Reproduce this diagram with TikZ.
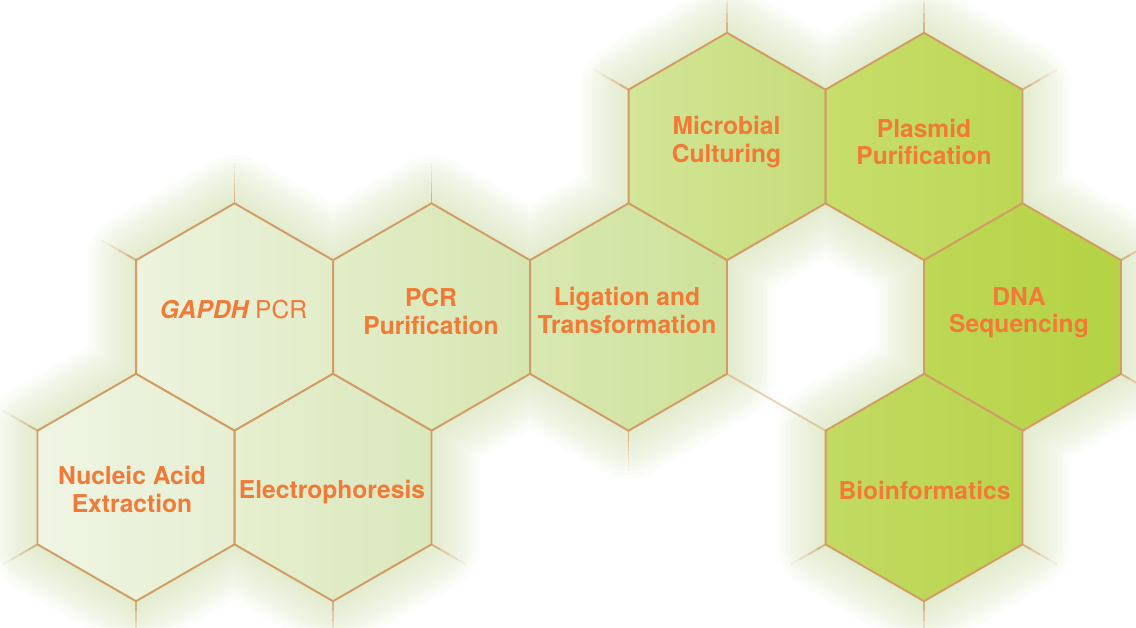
\documentclass[tikz,border=0pt]{standalone}
\usepackage{fontspec}
\setmainfont{TeX Gyre Heros}
\usepackage{xcolor}
\usepackage{tikz}
\definecolor{borde}{HTML}{D29C64}
\definecolor{naranja}{HTML}{F27A36}
\definecolor{verdehalo}{HTML}{CFE0A6}
\definecolor{extA}{HTML}{EFF5E3}\definecolor{extB}{HTML}{E6EFD3}
\definecolor{eleA}{HTML}{E6EFCF}\definecolor{eleB}{HTML}{DAE8BD}
\definecolor{gapA}{HTML}{EDF3DE}\definecolor{gapB}{HTML}{E1ECC8}
\definecolor{pcrA}{HTML}{E2EDC8}\definecolor{pcrB}{HTML}{D6E6B0}
\definecolor{ligA}{HTML}{D9E8B2}\definecolor{ligB}{HTML}{CDE299}
\definecolor{micA}{HTML}{D3E598}\definecolor{micB}{HTML}{C6DC78}
\definecolor{plaA}{HTML}{C7DE6C}\definecolor{plaB}{HTML}{BCD754}
\definecolor{dnaA}{HTML}{BED856}\definecolor{dnaB}{HTML}{B4D244}
\definecolor{bioA}{HTML}{C2DA62}\definecolor{bioB}{HTML}{B9D54E}
\newcommand{\hexR}{113.7}
\newcommand{\hexagono}[2]{(#1,#2) +(30:\hexR) -- +(90:\hexR) -- +(150:\hexR) -- +(210:\hexR) -- +(270:\hexR) -- +(330:\hexR) -- cycle}
\tikzset{
  celda/.style={draw=borde,line width=1.1pt,line join=round},
  brillo/.style={draw=verdehalo,line join=round},
  fantasma/.style={draw=borde,line width=1.1pt},
  rotulo/.style={text=naranja,font=\fontsize{14}{15.6}\selectfont\bfseries,align=center,inner sep=0pt}
}
\begin{document}
\begin{tikzpicture}[x=0.02cm,y=-0.02cm]
\clip (0,0) rectangle (1136,627);
\fill[white] (0,0) rectangle (1136,627);
% halo round the cluster
\foreach \w in {96,88,...,8}{
  \begin{scope}[transparency group,opacity=0.055]
  \foreach \cx/\cy in {727/146.5,924/146.5,234.5/317,431.5/317,628.5/317,1022.5/317,136/487.5,333/487.5,924/487.5}
    \draw[brillo,line width=\w*0.02cm] \hexagono{\cx}{\cy};
  \end{scope}
}
% faint edges of the empty cells
\foreach \vx/\vy/\dx/\dy in {727/32.8/0/-1,924/32.8/0/-1,234.5/203.3/0/-1,431.5/203.3/0/-1,
  628.5/430.7/0/1,136/601.2/0/1,333/601.2/0/1,924/601.2/0/1,
  628.5/89.6/-0.866/-0.5,1022.5/89.6/0.866/-0.5,136/260.1/-0.866/-0.5,1121/260.1/0.866/-0.5,
  1121/373.9/0.866/0.5,37.5/430.6/-0.866/-0.5,37.5/544.4/-0.866/0.5,431.5/544.4/0.866/0.5,
  825.5/544.4/-0.866/0.5,1022.5/544.4/0.866/0.5}
  \foreach \s/\o in {0/0.7,10/0.45,20/0.25,30/0.1}
    \draw[fantasma,draw opacity=\o] ({\vx+\s*\dx},{\vy+\s*\dy}) -- ({\vx+(\s+10)*\dx},{\vy+(\s+10)*\dy});
\draw[fantasma,draw opacity=0.45] (727,373.9) -- (825.5,430.7);
% cells
\foreach \cx/\cy/\ca/\cb in {727/146.5/micA/micB,924/146.5/plaA/plaB,234.5/317/gapA/gapB,
  431.5/317/pcrA/pcrB,628.5/317/ligA/ligB,1022.5/317/dnaA/dnaB,
  136/487.5/extA/extB,333/487.5/eleA/eleB,924/487.5/bioA/bioB}
  \shade[celda,left color=\ca,right color=\cb] \hexagono{\cx}{\cy};
% labels
\node[rotulo] (microbial) at (726.5,142) {Microbial\\Culturing};
\node[rotulo] (plasmid) at (924,142) {Plasmid\\Purification};
\node[rotulo] (gapdh) at (233.5,310) {{\itshape GAPDH} {\mdseries PCR}};
\node[rotulo] (pcrpur) at (431,311.5) {PCR\\Purification};
\node[rotulo] (ligation) at (627,310.5) {Ligation and\\Transformation};
\node[rotulo] (dna) at (1019,312.5) {DNA\\Sequencing};
\node[rotulo] (extraction) at (132,489.5) {Nucleic Acid\\Extraction};
\node[rotulo] (electro) at (332,492) {Electrophoresis};
\node[rotulo] (bioinfo) at (924.5,490) {Bioinformatics};
\end{tikzpicture}
\end{document}
